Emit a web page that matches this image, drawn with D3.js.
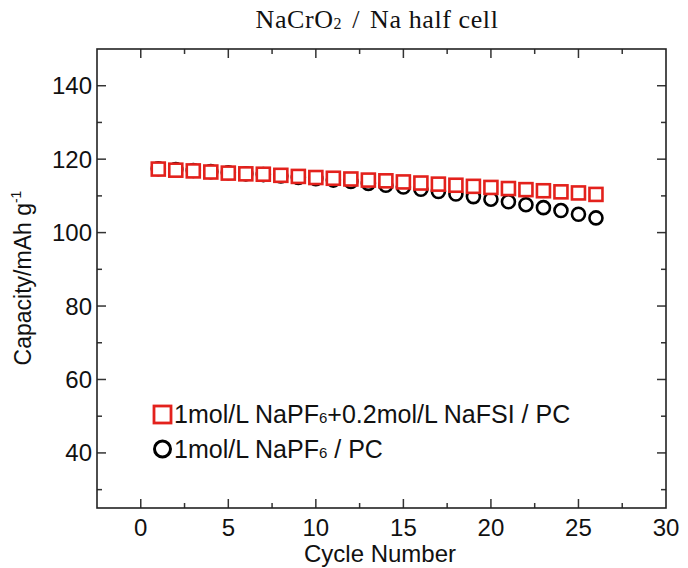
<!DOCTYPE html>
<html>
<head>
<meta charset="utf-8">
<script src="https://cdn.jsdelivr.net/npm/d3@7"></script>
<style>
  body { margin: 0; background: #fff; }
  svg { display: block; font-family: "Liberation Sans", Arial, sans-serif; }
</style>
</head>
<body>
<main></main>
<script>
const cycles = d3.range(1, 27);

// NaPF6 + 0.2 mol/L NaFSI / PC (red squares)
const capacityMixed = [
  117.3, 117.0, 116.8, 116.5, 116.2, 116.0, 115.9, 115.6, 115.3, 115.0,
  114.8, 114.6, 114.3, 114.1, 113.8, 113.5, 113.2, 112.9, 112.6, 112.3,
  112.0, 111.7, 111.4, 111.1, 110.8, 110.4,
];

// NaPF6 / PC (black circles)
const capacityPlain = [
  117.4, 117.2, 116.9, 116.6, 116.3, 116.0, 115.8, 115.4, 115.0, 114.7,
  114.3, 113.9, 113.4, 112.9, 112.4, 111.8, 111.2, 110.5, 109.8, 109.1,
  108.4, 107.6, 106.8, 106.0, 105.0, 104.0,
];

const xTicks = [0, 5, 10, 15, 20, 25, 30];
const yTicks = [40, 60, 80, 100, 120, 140];

const width = 688;
const height = 568;
const frame = { left: 97, right: 666, top: 49, bottom: 508 };

const svg = d3
  .select('main')
  .append('svg')
  .attr('width', width)
  .attr('height', height);

const xScale = d3.scaleLinear().domain([-2.5, 30]).range([frame.left, frame.right]);
const yScale = d3.scaleLinear().domain([25, 150]).range([frame.bottom, frame.top]);

// inward ticks on all four sides, minor ticks halfway
const tickGroup = svg.append('g').attr('stroke', '#333').attr('stroke-width', 1.5);
const xMinor = d3.range(-2.5, 30.01, 2.5).filter(v => v > -2.5 && v < 30);
const yMinor = d3.range(30, 150, 10);

xMinor.forEach(v => {
  const len = v % 5 === 0 ? 9 : 5;
  const x = xScale(v);
  tickGroup.append('line').attr('x1', x).attr('x2', x)
    .attr('y1', frame.bottom).attr('y2', frame.bottom - len);
  tickGroup.append('line').attr('x1', x).attr('x2', x)
    .attr('y1', frame.top).attr('y2', frame.top + len);
});

yMinor.forEach(v => {
  const len = v % 20 === 0 ? 9 : 5;
  const y = yScale(v);
  tickGroup.append('line').attr('y1', y).attr('y2', y)
    .attr('x1', frame.left).attr('x2', frame.left + len);
  tickGroup.append('line').attr('y1', y).attr('y2', y)
    .attr('x1', frame.right).attr('x2', frame.right - len);
});

svg.append('rect')
  .attr('x', frame.left)
  .attr('y', frame.top)
  .attr('width', frame.right - frame.left)
  .attr('height', frame.bottom - frame.top)
  .attr('fill', 'none')
  .attr('stroke', '#222')
  .attr('stroke-width', 1.6);

// tick labels
svg.append('g')
  .selectAll('text')
  .data(xTicks)
  .join('text')
  .attr('x', d => xScale(d))
  .attr('y', 536)
  .attr('text-anchor', 'middle')
  .attr('font-size', 24)
  .attr('fill', '#111')
  .text(d => d);

svg.append('g')
  .selectAll('text')
  .data(yTicks)
  .join('text')
  .attr('x', 92)
  .attr('y', d => yScale(d) + 8.5)
  .attr('text-anchor', 'end')
  .attr('font-size', 24)
  .attr('fill', '#111')
  .text(d => d);

// axis titles
svg.append('text')
  .attr('x', 380)
  .attr('y', 562)
  .attr('text-anchor', 'middle')
  .attr('font-size', 24)
  .attr('fill', '#111')
  .text('Cycle Number');

const yLabel = svg.append('text')
  .attr('transform', 'translate(31 278) rotate(-90)')
  .attr('text-anchor', 'middle')
  .attr('font-size', 23)
  .attr('fill', '#111');
yLabel.append('tspan').text('Capacity/mAh g');
yLabel.append('tspan').attr('font-size', 14).attr('dy', -10).text('-1');

// title
const title = svg.append('text')
  .attr('x', 377)
  .attr('y', 28)
  .attr('text-anchor', 'middle')
  .attr('font-family', '"Liberation Serif", "DejaVu Serif", serif')
  .attr('font-size', 26)
  .attr('letter-spacing', 0.6)
  .attr('fill', '#111');
title.append('tspan').text('NaCrO');
title.append('tspan').attr('font-size', 16).attr('dy', 1).text('2');
title.append('tspan').attr('dy', -1).attr('dx', 10).text('/');
title.append('tspan').attr('dx', 10).text('Na half cell');

// data
const red = '#e3211c';
const plain = cycles.map((c, i) => ({ c, v: capacityPlain[i] }));
const mixed = cycles.map((c, i) => ({ c, v: capacityMixed[i] }));

svg.append('g')
  .selectAll('circle')
  .data(plain)
  .join('circle')
  .attr('cx', d => xScale(d.c))
  .attr('cy', d => yScale(d.v))
  .attr('r', 6.5)
  .attr('fill', 'none')
  .attr('stroke', '#000')
  .attr('stroke-width', 2.6);

const sq = 13;
svg.append('g')
  .selectAll('rect')
  .data(mixed)
  .join('rect')
  .attr('x', d => xScale(d.c) - sq / 2)
  .attr('y', d => yScale(d.v) - sq / 2)
  .attr('width', sq)
  .attr('height', sq)
  .attr('fill', '#fff')
  .attr('stroke', red)
  .attr('stroke-width', 2.6);

// legend
const legend = svg.append('g').attr('font-size', 25).attr('fill', '#111');
legend.append('rect')
  .attr('x', 154).attr('y', 406).attr('width', 17).attr('height', 17)
  .attr('fill', 'none').attr('stroke', red).attr('stroke-width', 2.8);
const l1 = legend.append('text').attr('x', 174).attr('y', 423);
l1.append('tspan').text('1mol/L NaPF');
l1.append('tspan').attr('font-size', 15).text('6');
l1.append('tspan').text('+0.2mol/L NaFSI / PC');

legend.append('circle')
  .attr('cx', 162.5).attr('cy', 449).attr('r', 8)
  .attr('fill', 'none').attr('stroke', '#000').attr('stroke-width', 3);
const l2 = legend.append('text').attr('x', 174).attr('y', 458);
l2.append('tspan').text('1mol/L NaPF');
l2.append('tspan').attr('font-size', 15).text('6');
l2.append('tspan').text(' / PC');
</script>
</body>
</html>
